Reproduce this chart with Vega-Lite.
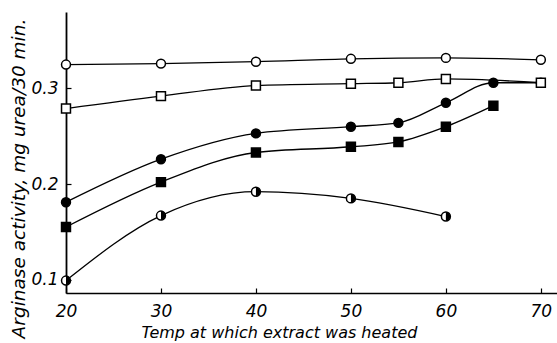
{
  "$schema": "https://vega.github.io/schema/vega-lite/v6.json",
  "width": 491,
  "height": 281,
  "autosize": {"type": "none"},
  "padding": {"left": 66, "top": 12, "right": 0, "bottom": 50},
  "background": "white",
  "config": {
    "view": {"stroke": null},
    "font": "DejaVu Sans",
    "axis": {"grid": false, "labelFlush": false, "domainColor": "black", "tickColor": "black", "labelColor": "black", "titleColor": "black", "labelFontStyle": "italic", "titleFontStyle": "italic", "labelFont": "DejaVu Sans", "titleFont": "DejaVu Sans", "titleFontWeight": "normal"}
  },
  "data": {
    "values": [
      {"series": "A", "temp": 20, "activity": 0.325},
      {"series": "A", "temp": 30, "activity": 0.326},
      {"series": "A", "temp": 40, "activity": 0.328},
      {"series": "A", "temp": 50, "activity": 0.331},
      {"series": "A", "temp": 60, "activity": 0.332},
      {"series": "A", "temp": 70, "activity": 0.330},
      {"series": "C", "temp": 20, "activity": 0.181},
      {"series": "C", "temp": 30, "activity": 0.226},
      {"series": "C", "temp": 40, "activity": 0.253},
      {"series": "C", "temp": 50, "activity": 0.260},
      {"series": "C", "temp": 55, "activity": 0.264},
      {"series": "C", "temp": 60, "activity": 0.285},
      {"series": "C", "temp": 65, "activity": 0.306},
      {"series": "C", "temp": 70, "activity": 0.306},
      {"series": "D", "temp": 20, "activity": 0.155},
      {"series": "D", "temp": 30, "activity": 0.202},
      {"series": "D", "temp": 40, "activity": 0.233},
      {"series": "D", "temp": 50, "activity": 0.239},
      {"series": "D", "temp": 55, "activity": 0.244},
      {"series": "D", "temp": 60, "activity": 0.260},
      {"series": "D", "temp": 65, "activity": 0.282},
      {"series": "E", "temp": 20, "activity": 0.099},
      {"series": "E", "temp": 30, "activity": 0.167},
      {"series": "E", "temp": 40, "activity": 0.192},
      {"series": "E", "temp": 50, "activity": 0.185},
      {"series": "E", "temp": 60, "activity": 0.166},
      {"series": "B", "temp": 20, "activity": 0.279},
      {"series": "B", "temp": 30, "activity": 0.292},
      {"series": "B", "temp": 40, "activity": 0.303},
      {"series": "B", "temp": 50, "activity": 0.305},
      {"series": "B", "temp": 55, "activity": 0.306},
      {"series": "B", "temp": 60, "activity": 0.310},
      {"series": "B", "temp": 70, "activity": 0.306}
    ]
  },
  "encoding": {
    "x": {
      "field": "temp", "type": "quantitative",
      "scale": {"domain": [20, 71.7], "nice": false, "zero": false},
      "axis": {"values": [20, 30, 40, 50, 60, 70], "tickSize": -5, "labelPadding": 15, "labelFontSize": 17, "domainWidth": 1.5, "tickWidth": 1.2,
        "title": "Temp at which extract was heated", "titleFontSize": 16, "titleX": 213, "titleY": 44, "titleBaseline": "alphabetic", "titleAnchor": null, "titleAlign": "center"}
    },
    "y": {
      "field": "activity", "type": "quantitative",
      "scale": {"domain": [0.086, 0.38], "nice": false, "zero": false},
      "axis": {"values": [0.1, 0.2, 0.3], "format": ".1f", "tickSize": -5, "labelPadding": 13, "labelFontSize": 17, "domainWidth": 1.8, "tickWidth": 1.2,
        "title": "Arginase activity, mg urea/30 min.", "titleFontSize": 18.5, "titleAngle": -90, "titleX": -48, "titleY": 166, "titleAlign": "center", "titleBaseline": "middle", "titleAnchor": null}
    }
  },
  "layer": [
    {
      "mark": {"type": "line", "interpolate": "monotone", "color": "black", "strokeWidth": 1.3},
      "encoding": {"detail": {"field": "series"}}
    },
    {
      "mark": {"type": "point", "filled": true, "stroke": "black", "strokeWidth": 1.5, "size": 80, "opacity": 1},
      "encoding": {
        "shape": {"field": "series", "scale": {"domain": ["A", "B", "C", "D", "E"], "range": ["circle", "square", "circle", "square", "circle"]}, "legend": null},
        "fill": {"field": "series", "scale": {"domain": ["A", "B", "C", "D", "E"], "range": ["white", "white", "black", "black", "white"]}, "legend": null}
      }
    },
    {
      "transform": [{"filter": "datum.series === 'E'"}],
      "mark": {"type": "point", "filled": true, "fill": "black", "strokeWidth": 0, "size": 80, "opacity": 1, "shape": "M0,-1A1,1 0 0,1 0,1Z"}
    }
  ]
}
